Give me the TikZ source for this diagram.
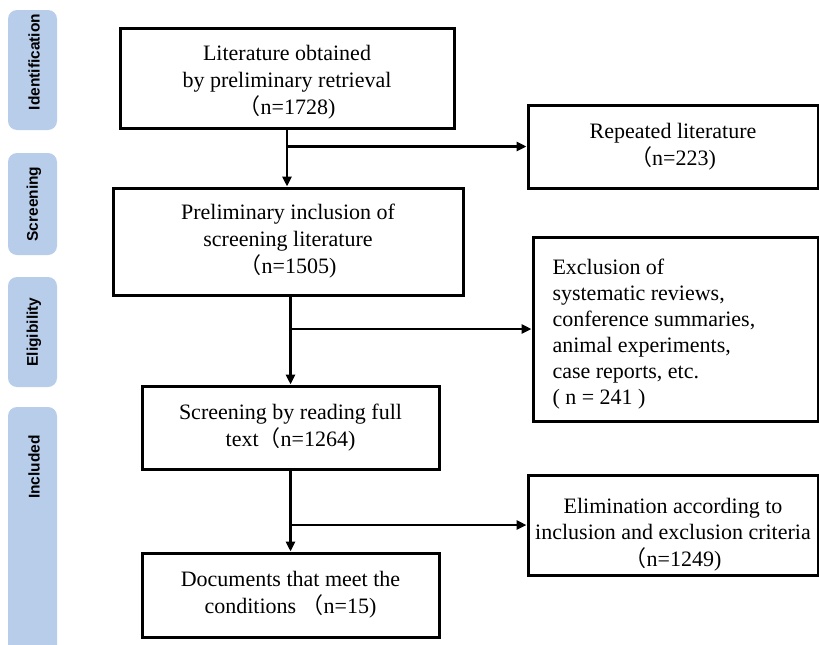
\documentclass[tikz,border=0pt]{standalone}
\usepackage{fontspec}
\setmainfont{Liberation Serif}
\newfontfamily\cjk{Noto Sans CJK SC}
\newfontfamily\barfont{Liberation Sans}
\usetikzlibrary{arrows.meta}
\definecolor{barblue}{RGB}{184,205,234}
\newcommand{\lp}{{\cjk （}}
\newcommand{\shiftdown}[2]{\raisebox{0pt}[\dimexpr\height+#1\relax][\depth]{#2}}
\begin{document}
\begin{tikzpicture}[x=1pt,y=-1pt,
  box/.style={draw=black, line width=3pt, fill=white, align=center, inner sep=0pt,
    font=\fontsize{22}{27}\selectfont},
  stagebar/.style={fill=barblue, rounded corners=9pt, draw=none},
  stagetext/.style={rotate=90, font=\barfont\bfseries\fontsize{15.5}{18}\selectfont},
  arr/.style={line width=2.6pt, -{Triangle[length=10pt,width=9pt]}}]
\useasboundingbox (0,0) rectangle (819,645);
% stage bars
\fill[stagebar] (8,10) rectangle (57,130);
\fill[stagebar] (8,153) rectangle (57,255);
\fill[stagebar] (8,277) rectangle (57,387);
\fill[stagebar] (8,407) rectangle (57,670);
\node[stagetext] (s1) at (34,62) {Identification};
\node[stagetext] (s2) at (34,204) {Screening};
\node[stagetext] (s3) at (34,332) {Eligibility};
\node[stagetext] (s4) at (34,467) {Included};
% main boxes
\node[box, minimum width=334pt, minimum height=100pt] (b1) at (287,78)
  {\shiftdown{8pt}{\begin{tabular}{@{}c@{}}Literature obtained\\by preliminary retrieval\\\lp n=1728)\end{tabular}}};
\node[box, minimum width=350pt, minimum height=107pt] (b2) at (288,241.5)
  {Preliminary inclusion of\\screening literature\\\lp n=1505)};
\node[box, minimum width=297pt, minimum height=83pt] (b3) at (290.5,427.5)
  {Screening by reading full\\text\lp n=1264)};
\node[box, minimum width=297pt, minimum height=84pt] (b4) at (290.5,595)
  {Documents that meet the\\conditions \lp n=15)};
% side boxes
\node[box, minimum width=290pt, minimum height=83pt] (r1) at (673,146.5)
  {Repeated literature\\\lp n=223)};
\node[box, minimum width=285pt, minimum height=184pt, font=\fontsize{22}{26}\selectfont] (r2) at (675.5,329)
  {\hspace*{-16pt}\shiftdown{10pt}{\begin{tabular}{@{}p{230pt}@{}}Exclusion of\\systematic reviews,\\conference summaries,\\animal experiments,\\case reports, etc.\\( n = 241 )\end{tabular}}};
\node[box, minimum width=290pt, minimum height=100pt, font=\fontsize{22}{26}\selectfont] (r3) at (673,525)
  {\shiftdown{20pt}{\begin{tabular}{@{}c@{}}Elimination according to\\inclusion and exclusion criteria\\\lp n=1249)\end{tabular}}};
% connectors
\draw[arr] (b1.south) -- (b1.south |- b2.north);
\draw[arr] (b1.south |- r1.west) -- (r1.west);
\draw[arr] (b3.north |- b2.south) -- (b3.north);
\draw[arr] (b3.north |- r2.west) -- (r2.west);
\draw[arr] (b3.south) -- (b4.north);
\draw[arr] (b3.south |- r3.west) -- (r3.west);
\end{tikzpicture}
\end{document}
